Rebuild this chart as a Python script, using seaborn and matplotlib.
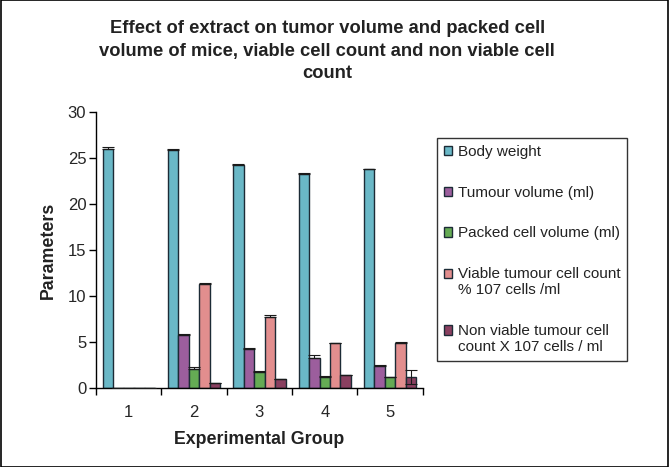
import numpy as np
import pandas as pd
import matplotlib
matplotlib.use("Agg")
import matplotlib.pyplot as plt
import seaborn as sns
from matplotlib.patches import Rectangle
from matplotlib.legend_handler import HandlerPatch

# data
groups = ["1", "2", "3", "4", "5"]
series = [
    "Body weight",
    "Tumour volume (ml)",
    "Packed cell volume (ml)",
    "Viable tumour cell count\n% 107 cells /ml",
    "Non viable tumour cell\ncount X 107 cells / ml",
]
body_weight = [26.0, 25.9, 24.3, 23.3, 23.8]
tumour_volume = [0, 5.8, 4.3, 3.3, 2.4]
packed_cell = [0, 2.05, 1.8, 1.2, 1.2]
viable_count = [0, 11.3, 7.75, 4.9, 4.95]
nonviable_count = [0, 0.55, 1.0, 1.45, 1.2]

err_up = [
    [0.2, 0.1, 0.1, 0.1, 0.0],
    [0.0, 0.1, 0.05, 0.25, 0.1],
    [0.0, 0.25, 0.05, 0.15, 0.0],
    [0.0, 0.15, 0.2, 0.0, 0.1],
    [0.0, 0.0, 0.0, 0.0, 0.8],
]
err_down = [
    [0.0, 0.0, 0.0, 0.0, 0.0],
    [0.0, 0.0, 0.0, 0.0, 0.0],
    [0.0, 0.0, 0.0, 0.0, 0.0],
    [0.0, 0.0, 0.0, 0.0, 0.0],
    [0.0, 0.0, 0.0, 0.0, 0.8],
]

colors = ["#5bc3d6", "#a653a8", "#5cb946", "#f08080", "#96345f"]

values = [body_weight, tumour_volume, packed_cell, viable_count, nonviable_count]
df = pd.DataFrame({
    "group": groups * len(series),
    "series": np.repeat(series, len(groups)),
    "value": np.concatenate(values),
})

sns.set_style("ticks")
plt.rcParams["font.family"] = ["Liberation Sans", "DejaVu Sans"]

fig = plt.figure(figsize=(6.69, 4.67), dpi=100)
ax = fig.add_axes([0.1435, 0.169, 0.4885, 0.591])

sns.barplot(
    data=df, x="group", y="value", hue="series",
    palette=colors, width=0.8, edgecolor="#1c2b36", linewidth=1.0,
    errorbar=None, legend=True, ax=ax,
)

# error bars placed on the bars seaborn drew
bar_containers = list(ax.containers)
for i, cont in enumerate(bar_containers):
    xs = [p.get_x() + p.get_width() / 2 for p in cont.patches]
    ys = [p.get_height() for p in cont.patches]
    ax.errorbar(xs, ys, yerr=[err_down[i], err_up[i]], fmt="none",
                ecolor="#1a1a1a", elinewidth=0.8, capsize=4, capthick=0.8,
                zorder=5)

ax.set_ylim(0, 30)
ax.set_yticks(range(0, 31, 5))
ax.set_xlim(-0.5, 4.5)
ax.set_xticks(range(5))
ax.set_xticklabels(groups)
ax.set_xticks(np.arange(-0.5, 5.0, 1.0), minor=True)
ax.tick_params(axis="x", which="major", length=0, labelsize=12, pad=12)
ax.tick_params(axis="x", which="minor", length=5, width=1, color="black")
ax.tick_params(axis="y", length=5, width=1, labelsize=12, color="black", pad=2)
for s in ["top", "right"]:
    ax.spines[s].set_visible(False)
for s in ["left", "bottom"]:
    ax.spines[s].set_color("black")
    ax.spines[s].set_linewidth(1.0)

ax.set_xlabel("Experimental Group", fontsize=12.8, fontweight="bold",
              labelpad=8, color="#222222")
ax.set_ylabel("Parameters", fontsize=12.8, fontweight="bold", labelpad=8,
              color="#222222")

fig.text(0.489, 0.957,
         "Effect of extract on tumor volume and packed cell\n"
         "volume of mice, viable cell count and non viable cell\ncount",
         ha="center", va="top", fontsize=13.2, fontweight="bold",
         color="#222222", linespacing=1.42)


# legend squares sit beside the first line of two-line labels
def first_line_square(legend, orig_handle, xdescent, ydescent, width, height, fontsize):
    return Rectangle((-xdescent, -ydescent + 0.6 * fontsize), width, height)


handles, labels = ax.get_legend_handles_labels()
ax.get_legend().remove()
hmap = {h: HandlerPatch(patch_func=first_line_square)
        for h, l in zip(handles, labels) if "\n" in l}
leg = fig.legend(handles, labels, loc="upper left",
                 bbox_to_anchor=(437 / 669, 1 - 138 / 467),
                 fontsize=11, frameon=True, fancybox=False,
                 edgecolor="black", handlelength=0.55, handleheight=0.55,
                 handletextpad=0.35, labelspacing=1.75, borderpad=0.45,
                 borderaxespad=0, handler_map=hmap)
leg.get_frame().set_linewidth(1.0)
for t in leg.get_texts():
    t.set_color("#222222")

# thin border around the whole image
fig.patches.append(Rectangle((0.001, 0.001), 0.998, 0.998, transform=fig.transFigure,
                             fill=False, edgecolor="black", linewidth=1.2))

fig.savefig("out.png", dpi=100)
